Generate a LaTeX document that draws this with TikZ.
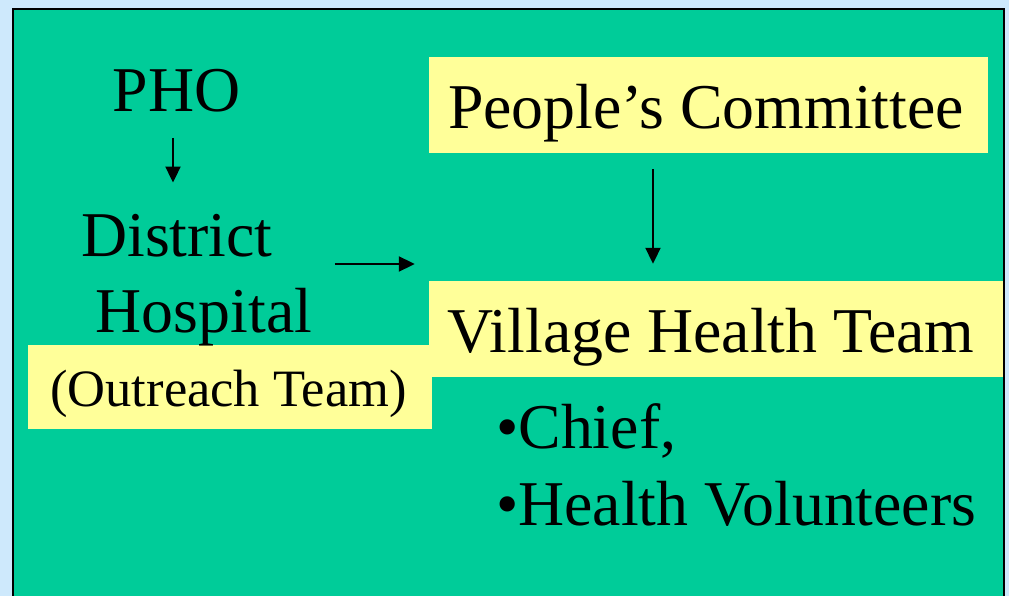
\documentclass[tikz,border=0pt]{standalone}
\usepackage{fontspec}
\setmainfont{Liberation Serif}
\usetikzlibrary{arrows.meta,calc}
\definecolor{bgblue}{RGB}{206,233,252}
\definecolor{slidegreen}{RGB}{0,204,153}
\definecolor{boxyellow}{RGB}{255,255,153}
\begin{document}
\begin{tikzpicture}[x=1pt,y=-1pt,
  big/.style={font=\fontsize{63.8}{76}\selectfont, inner sep=0pt},
  small/.style={font=\fontsize{52.5}{62}\selectfont, inner sep=0pt},
  ybox/.style={fill=boxyellow, draw=none, inner sep=0pt},
  arr/.style={line width=2pt, -{Triangle[length=16pt,width=15pt]}}]
\useasboundingbox (0,0) rectangle (1009,596);
\fill[bgblue] (0,0) rectangle (1009,596);
\draw[fill=slidegreen, line width=2pt] (13,9) rectangle (1004,605);
% boxes
\node[ybox, minimum width=559pt, minimum height=96pt] (pcbox) at (708.5,105) {};
\node[ybox, minimum width=574pt, minimum height=96pt] (vhtbox) at (716,329) {};
\node[ybox, minimum width=404pt, minimum height=84pt] (otbox) at (230,387) {};
% texts
\node[big, anchor=base] (pho) at (176.5,112) {PHO};
\node[big, anchor=base] (district) at (177,256) {District};
\node[big, anchor=base] (hospital) at (204,332) {Hospital};
\node[small, anchor=base] (outreach) at (228.5,406) {(Outreach Team)};
\node[big, anchor=base] (pc) at (706,129) {People’s Committee};
\node[big, anchor=base] (vht) at (711,352) {Village Health Team};
\node[big, anchor=base west] (chief) at (496,448) {•Chief,};
\node[big, anchor=base west] (vol) at (496,525) {•Health Volunteers};
% arrows
\draw[arr] ($(pho.south)+(-3.5,25)$) -- ($(district.north)+(-4,-31)$);
\draw[arr] ($(vhtbox.west)+(-94,-65)$) -- ($(vhtbox.west)+(-14,-65)$);
\draw[arr] ($(pcbox.south)+(-55.5,16)$) -- ($(vhtbox.north)+(-63,-17)$);
\end{tikzpicture}
\end{document}
